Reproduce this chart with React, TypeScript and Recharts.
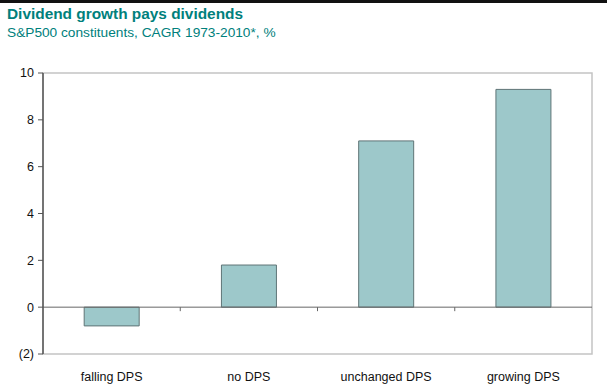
import { BarChart, Bar, XAxis, YAxis, ReferenceLine, ReferenceArea } from "recharts"

const categories = ["falling DPS", "no DPS", "unchanged DPS", "growing DPS"]
const cagr = [-0.8, 1.8, 7.1, 9.3]
const yTicks = [-2, 0, 2, 4, 6, 8, 10]

const data = categories.map((name, i) => ({ name, value: cagr[i] }))

const teal = "#00807c"
const font = "Arial, 'Liberation Sans', sans-serif"

const fmt = (v: number) => (v < 0 ? `(${Math.abs(v)})` : `${v}`)

// zero line with small tick marks at the category boundaries
const ZeroLine = (props: any) => {
  const { x1, x2, y1 } = props
  const n = categories.length
  const step = (x2 - x1) / n
  const ticks = []
  for (let i = 1; i < n; i++) {
    const x = x1 + step * i
    ticks.push(<line key={i} x1={x} x2={x} y1={y1} y2={y1 + 4} stroke="#666" strokeWidth={1} />)
  }
  return (
    <g>
      <line x1={x1} x2={x2} y1={y1} y2={y1} stroke="#666" strokeWidth={1} />
      {ticks}
    </g>
  )
}

export default function App() {
  return (
    <div style={{ position: "absolute", left: 0, top: 0, width: 612, height: 388, background: "#fff", fontFamily: font }}>
      <div style={{ position: "absolute", left: 0, top: 0, width: 607, height: 3, background: "#111" }} />
      <div style={{ position: "absolute", left: 7, top: 5, fontSize: 15.4, fontWeight: "bold", color: teal }}>
        Dividend growth pays dividends
      </div>
      <div style={{ position: "absolute", left: 7, top: 25, fontSize: 13.7, color: teal }}>
        S&amp;P500 constituents, CAGR 1973-2010*, %
      </div>
      <div style={{ position: "absolute", left: 0, top: 0 }}>
        <BarChart width={612} height={388} data={data} margin={{ top: 73, right: 20, bottom: 0, left: 0 }} barCategoryGap="30%">
          <ReferenceArea y1={-2} y2={10} fill="none" stroke="#c4c4c4" strokeWidth={1.5} ifOverflow="visible" />
          <XAxis
            dataKey="name"
            height={34}
            axisLine={false}
            tickLine={false}
            tickMargin={12}
            interval={0}
            tick={{ fill: "#111", fontSize: 12.5, fontFamily: font }}
          />
          <YAxis
            width={43}
            domain={[-2, 10]}
            ticks={yTicks}
            interval={0}
            tickFormatter={fmt}
            axisLine={{ stroke: "#555", strokeWidth: 1.5 }}
            tickLine={{ stroke: "#555" }}
            tickSize={5}
            tickMargin={4}
            tick={{ fill: "#111", fontSize: 12.5, fontFamily: font }}
          />
          <Bar dataKey="value" fill="#9dc8ca" stroke="#5f7476" strokeWidth={1} isAnimationActive={false} />
          <ReferenceLine y={0} shape={ZeroLine} />
        </BarChart>
      </div>
    </div>
  )
}
